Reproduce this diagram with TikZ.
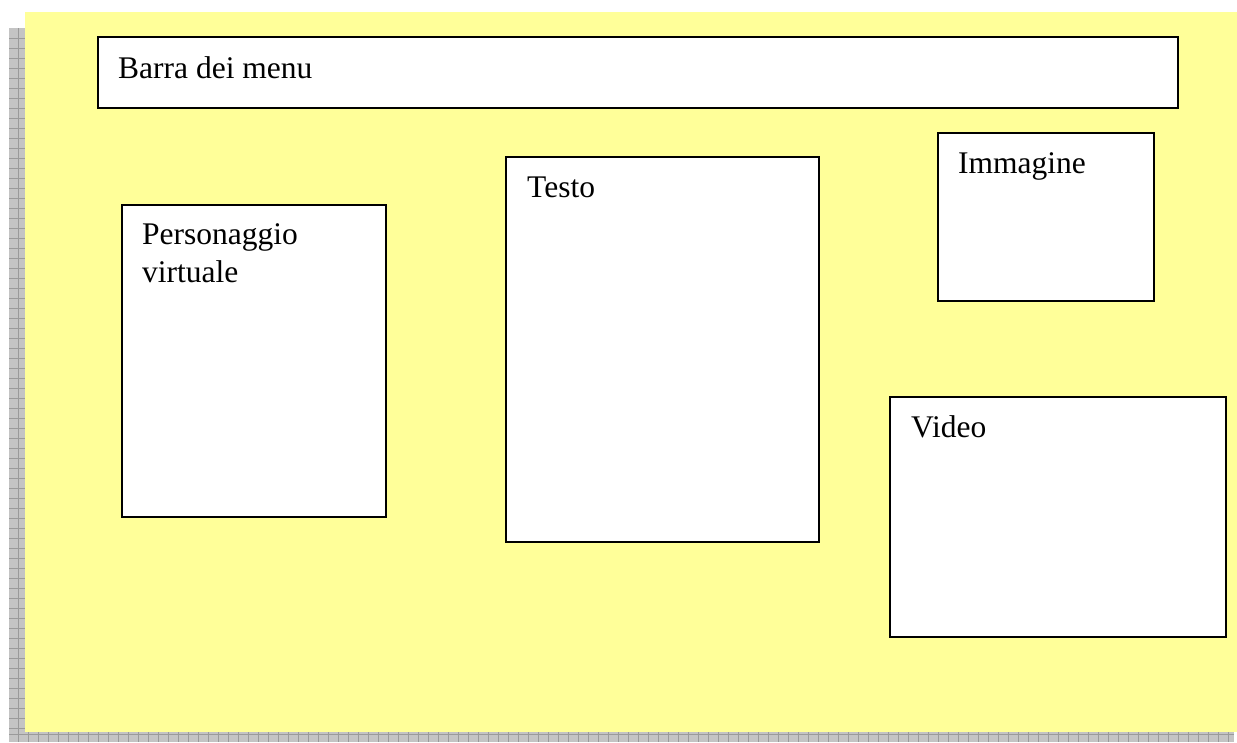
\documentclass[tikz,border=0pt]{standalone}
\usepackage{fontspec}
\setmainfont{Liberation Serif}
\definecolor{bgyellow}{HTML}{FFFF99}
\definecolor{stripgray}{HTML}{C4C4C4}
\definecolor{gridgray}{HTML}{9A9A9A}
\begin{document}
\begin{tikzpicture}[x=1pt,y=-1pt,
  box/.style={draw=black, fill=white, line width=1.6pt, rectangle, inner sep=0pt, anchor=north west},
  lbl/.style={inner sep=0pt, anchor=base west, font=\fontsize{31.5}{37}\selectfont}]
\useasboundingbox (0,0) rectangle (1237,742);
% grey strips (shadow)
\fill[stripgray] (9,28) rectangle (25,742);
\fill[stripgray] (9,732) rectangle (1234,742);
\foreach \y in {38,48,...,728} \draw[gridgray, line width=0.8pt] (9,\y) -- (25,\y);
\draw[gridgray, line width=0.8pt] (18,28) -- (18,742);
\foreach \x in {28,38,...,1230} \draw[gridgray, line width=0.8pt] (\x,732) -- (\x,742);
\draw[gridgray, line width=0.8pt] (9,734) -- (1234,734);
% yellow page
\fill[bgyellow] (25,12) rectangle (1237,732);
% boxes
\node[box, minimum width=1080pt, minimum height=71pt] (menu) at (97,36) {};
\node[box, minimum width=264pt, minimum height=312pt] (pers) at (121,204) {};
\node[box, minimum width=313pt, minimum height=385pt] (testo) at (505,156) {};
\node[box, minimum width=216pt, minimum height=168pt] (img) at (937,132) {};
\node[box, minimum width=336pt, minimum height=240pt] (video) at (889,396) {};
% labels
\node[lbl] (menutxt) at (118,78) {Barra dei menu};
\node[lbl] (perstxt1) at (142,244) {Personaggio};
\node[lbl] (perstxt2) at (142,282) {virtuale};
\node[lbl] (testotxt) at (527,197) {Testo};
\node[lbl] (imgtxt) at (958,173) {Immagine};
\node[lbl] (videotxt) at (911,437) {Video};
\end{tikzpicture}
\end{document}
